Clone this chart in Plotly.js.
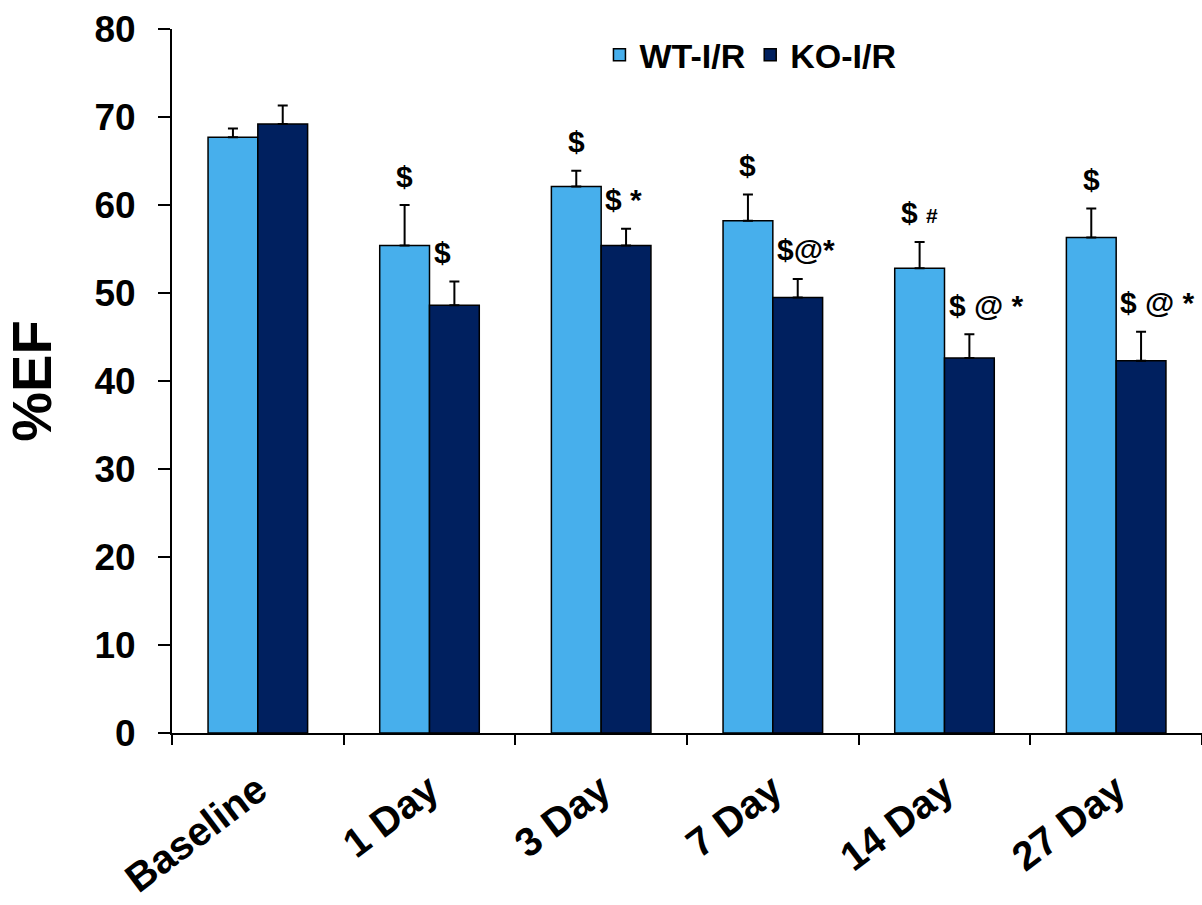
<!DOCTYPE html>
<html>
<head>
<meta charset="utf-8">
<script src="https://cdn.plot.ly/plotly-3.0.1.min.js"></script>
<style>html,body{margin:0;padding:0;background:#fff;}#chart{width:1202px;height:905px;}</style>
</head>
<body>
<div id="chart"></div>
<script>
var categories = ["Baseline", "1 Day", "3 Day", "7 Day", "14 Day", "27 Day"];
var wtValues = [67.7, 55.4, 62.1, 58.2, 52.8, 56.3];
var wtErrors = [1.0, 4.6, 1.8, 3.0, 3.0, 3.3];
var koValues = [69.2, 48.6, 55.4, 49.5, 42.6, 42.3];
var koErrors = [2.1, 2.7, 1.9, 2.1, 2.7, 3.3];
var wtMarks = ["", "$", "$", "$", "$ <span style='font-size:21px'>#</span>", "$"];
var koMarks = ["", "$", "$ *", "$@*", "$ @ *", "$ @ *"];

var FONT = "Arial, 'Liberation Sans', sans-serif";
var zeros = categories.map(function(){ return 0; });

var traces = [
  {
    type: "bar", name: "WT-I/R", x: categories, y: wtValues,
    marker: {color: "#47AFEC", line: {color: "#000", width: 1.5}},
    error_y: {type: "data", symmetric: false, array: wtErrors, arrayminus: zeros,
              color: "#000", thickness: 2, width: 5}
  },
  {
    type: "bar", name: "KO-I/R", x: categories, y: koValues,
    marker: {color: "#00205F", line: {color: "#000", width: 1.5}},
    error_y: {type: "data", symmetric: false, array: koErrors, arrayminus: zeros,
              color: "#000", thickness: 2, width: 5}
  }
];

var bargap = 0.42;
var half = (1 - bargap) / 4;
var annotations = [];
categories.forEach(function(c, i){
  if (wtMarks[i]) annotations.push({
    x: i - half, y: wtValues[i] + wtErrors[i], xref: "x", yref: "y",
    text: wtMarks[i], showarrow: false, xanchor: "center", yanchor: "middle", yshift: 29,
    font: {family: FONT, size: 30, color: "#000", weight: "bold"}
  });
  if (koMarks[i]) annotations.push({
    x: i, y: koValues[i] + koErrors[i], xref: "x", yref: "y",
    text: koMarks[i], showarrow: false, xanchor: "left", yanchor: "middle", yshift: 29, xshift: 2,
    font: {family: FONT, size: 30, color: "#000", weight: "bold"}
  });
});

var layout = {
  width: 1202, height: 905,
  margin: {l: 172, r: 0, t: 29, b: 172},
  paper_bgcolor: "#fff", plot_bgcolor: "#fff",
  barmode: "group", bargap: bargap, bargroupgap: 0,
  showlegend: true,
  legend: {orientation: "h", x: 0.415, xanchor: "left", y: 0.963, yanchor: "middle",
           font: {family: FONT, size: 34, color: "#000", weight: "bold"},
           bgcolor: "rgba(0,0,0,0)", itemwidth: 30, tracegroupgap: 0},
  xaxis: {
    type: "category", showline: true, linecolor: "#000", linewidth: 2,
    ticks: "outside", tickson: "boundaries", ticklen: 10, tickwidth: 2, tickcolor: "#000",
    tickangle: -37, tickfont: {family: FONT, size: 40, color: "#000", weight: "bold"},
    ticklabelstandoff: 16,
    showgrid: false, zeroline: false, fixedrange: true
  },
  yaxis: {
    range: [0, 80], dtick: 10, showline: true, linecolor: "#000", linewidth: 2,
    ticks: "outside", ticklen: 12, tickwidth: 2, tickcolor: "#000",
    tickfont: {family: FONT, size: 37, color: "#000", weight: "bold"},
    ticklabelstandoff: 15,
    showgrid: false, zeroline: false, fixedrange: true,
    title: {text: "%EF", font: {family: FONT, size: 56, color: "#000", weight: "bold"}, standoff: 34}
  },
  annotations: annotations
};

Plotly.newPlot("chart", traces, layout, {displayModeBar: false, staticPlot: true});
</script>
</body>
</html>
